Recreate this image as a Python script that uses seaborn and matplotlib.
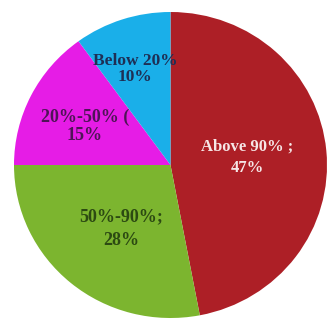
import matplotlib
matplotlib.use("Agg")
import matplotlib.pyplot as plt
import seaborn as sns

sns.set_theme(style="white")
plt.rcParams['font.family'] = ['Liberation Serif', 'DejaVu Serif']

categories = ["Above 90%", "50%-90%", "20%-50%", "Below 20%"]
values = [47, 28, 15, 10]
label_texts = ["Above 90% ;\n47%", "50%-90%;\n28%", "20%-50% (\n15%", "Below 20%\n10%"]
colors = ["#AD1F26", "#7CB52F", "#E61CE6", "#1AAFE9"]
text_colors = ["#F6E6E6", "#2C4A12", "#4E1456", "#1E2F55"]
label_pos = [(0.49, 0.052), (-0.316, -0.418), (-0.546, 0.252), (-0.227, 0.627)]
label_sizes = [12, 13, 13, 12.5]
line_spacing = [1.5, 1.5, 1.04, 1.0]

fig = plt.figure(figsize=(3.29, 3.23), dpi=100)
ax = fig.add_axes([14/329, 5/323, 313/329, 306/323])
ax.pie(values, colors=colors, startangle=90, counterclock=False,
       radius=1.0, wedgeprops=dict(linewidth=0))
ax.set_aspect('auto')
ax.set_xlim(-1, 1)
ax.set_ylim(-1, 1)
ax.axis('off')

for txt, (x, y), c, ls, fs in zip(label_texts, label_pos, text_colors, line_spacing, label_sizes):
    ax.text(x, y, txt, ha='center', va='center', fontsize=fs, fontweight='bold',
            color=c, linespacing=ls, multialignment='center')

fig.savefig("out.png", dpi=100, facecolor="white")
